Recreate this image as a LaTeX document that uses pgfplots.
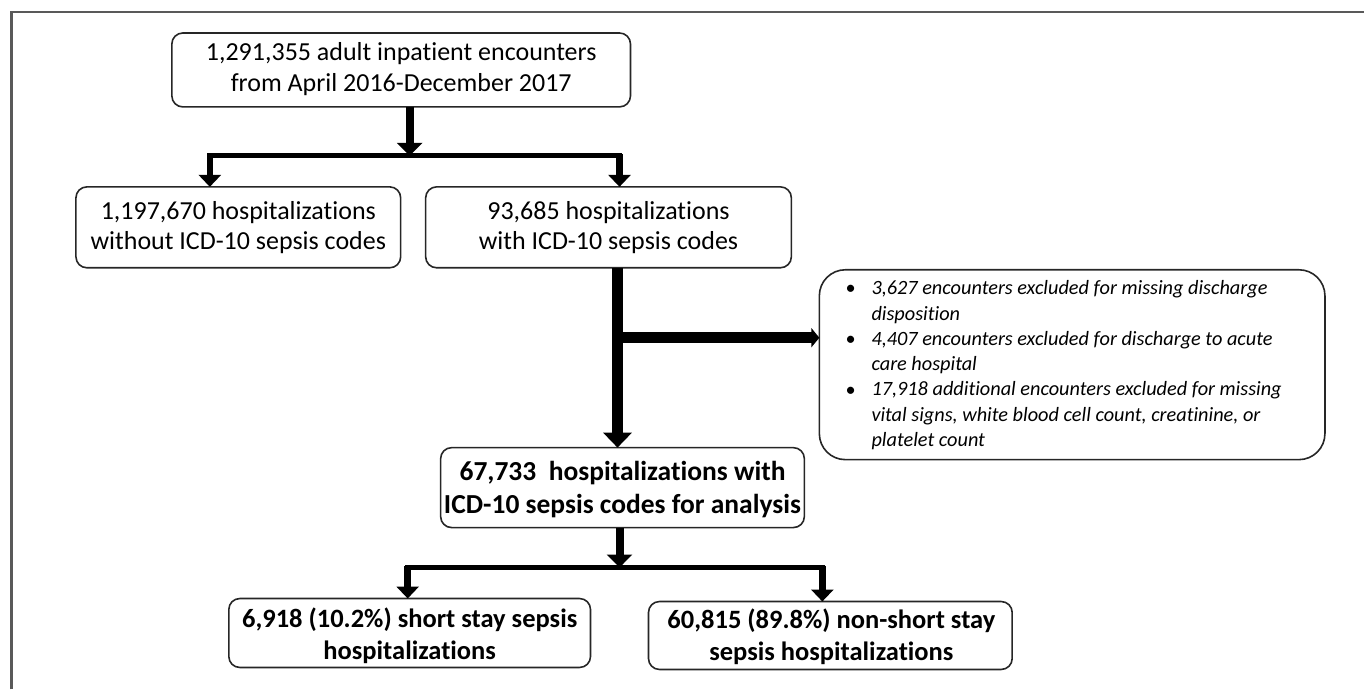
\documentclass[border=0pt]{standalone}
\usepackage{fontspec}
\setmainfont{Carlito}[Ligatures={NoCommon}]
\usepackage{pgfplots}
\pgfplotsset{compat=1.18}
\usetikzlibrary{arrows.meta}
\tikzset{
  box/.style={line width=1.6bp, rounded corners=11bp, draw=black!85},
  reg/.style={font=\fontsize{26bp}{30.5bp}\selectfont, align=center, inner sep=0pt},
  bld/.style={font=\fontsize{26.5bp}{32bp}\selectfont\bfseries, align=center, inner sep=0pt},
  itl/.style={font=\fontsize{20.3bp}{25bp}\selectfont\itshape, anchor=base west, inner sep=0pt},
}
\begin{document}
\begin{tikzpicture}
\begin{axis}[
  scale only axis, width=1365bp, height=690bp,
  xmin=0, xmax=1365, ymin=0, ymax=690, y dir=reverse,
  hide axis, clip=false,
]
% page extent
\path (axis cs:0,0) rectangle (axis cs:1365,690);
% outer frame
\addplot[draw=black!65, line width=2.2bp] coordinates {(11.5,690) (11.5,12) (1365,12)};

% boxes
\draw[box] (axis cs:172,33) rectangle (axis cs:631,107);
\draw[box] (axis cs:76,187) rectangle (axis cs:401,268);
\draw[box] (axis cs:426,187) rectangle (axis cs:792,268);
\draw[box, rounded corners=26bp] (axis cs:820,270) rectangle (axis cs:1326,460);
\draw[box] (axis cs:441,448) rectangle (axis cs:805,528);
\draw[box] (axis cs:229,599) rectangle (axis cs:591,668);
\draw[box] (axis cs:649,602) rectangle (axis cs:1013,670);

% texts
\node[reg] at (axis cs:401.5,69) {1,291,355 adult inpatient encounters\\from April 2016-December 2017};
\node[reg] at (axis cs:238.5,228) {1,197,670 hospitalizations\\without ICD-10 sepsis codes};
\node[reg] at (axis cs:609,228) {93,685 hospitalizations\\with ICD-10 sepsis codes};
\node[bld, font=\fontsize{27.5bp}{33bp}\selectfont\bfseries] at (axis cs:623,490) {67,733\ \ hospitalizations with\\ICD-10 sepsis codes for analysis};
\node[bld] at (axis cs:410,636) {6,918 (10.2\%) short stay sepsis\\hospitalizations};
\node[bld] at (axis cs:832,637) {60,815 (89.8\%) non-short stay\\sepsis hospitalizations};

% exclusion list
\node[itl] at (axis cs:846,295) {\upshape •};
\node[itl] at (axis cs:846,346) {\upshape •};
\node[itl] at (axis cs:846,396.5) {\upshape •};
\node[itl] at (axis cs:872,295) {3,627 encounters excluded for missing discharge};
\node[itl] at (axis cs:872,320.3) {disposition};
\node[itl] at (axis cs:872,345.6) {4,407 encounters excluded for discharge to acute};
\node[itl] at (axis cs:872,370.9) {care hospital};
\node[itl] at (axis cs:872,396.2) {17,918 additional encounters excluded for missing};
\node[itl] at (axis cs:872,421.5) {vital signs, white blood cell count, creatinine, or};
\node[itl] at (axis cs:872,446.8) {platelet count};

% top arrows
\addplot[line width=8bp, -{Triangle[width=25bp,length=13bp]}] coordinates {(410,107) (410,156)};
\addplot[line width=5bp] coordinates {(207.5,156) (622.5,156)};
\addplot[line width=6.5bp, -{Triangle[width=22bp,length=12bp]}] coordinates {(210,154) (210,187)};
\addplot[line width=6.5bp, -{Triangle[width=22bp,length=12bp]}] coordinates {(620,154) (620,187)};

% middle arrows
\addplot[line width=11bp, -{Triangle[width=28bp,length=15bp]}] coordinates {(618,268) (618,448)};
\addplot[line width=11bp, -{Triangle[width=19bp,length=8bp]}] coordinates {(613,338) (820,338)};

% bottom arrows
\addplot[line width=8bp, -{Triangle[width=25bp,length=13bp]}] coordinates {(620,528) (620,568)};
\addplot[line width=5bp] coordinates {(405.5,568) (825.5,568)};
\addplot[line width=6.5bp, -{Triangle[width=22bp,length=12bp]}] coordinates {(408,566) (408,599)};
\addplot[line width=6.5bp, -{Triangle[width=22bp,length=12bp]}] coordinates {(823,566) (823,602)};
\end{axis}
\end{tikzpicture}
\end{document}
